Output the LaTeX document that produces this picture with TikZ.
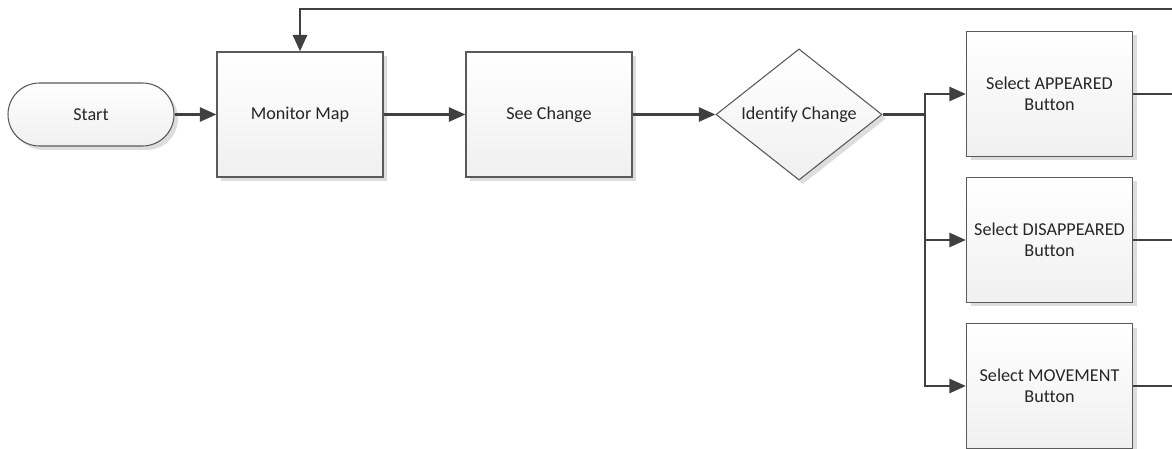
\documentclass[tikz,border=0pt]{standalone}
\usepackage{fontspec}
\setmainfont[Ligatures=CommonOff]{Carlito}
\usetikzlibrary{arrows.meta,shapes.geometric,shadows}
\definecolor{lineC}{HTML}{404040}
\definecolor{bordC}{HTML}{5A5A5A}
\definecolor{shadC}{HTML}{DDDDDD}
\tikzset{
  x=0.75pt, y=-0.75pt,
  boxbase/.style={draw=bordC, line width=0.8pt, top color=white, bottom color=black!6,
    drop shadow={shadow xshift=3pt, shadow yshift=-3pt, fill=shadC, opacity=1},
    font=\fontsize{13.6}{16}\selectfont, text=black!85, align=center, inner sep=0pt},
  procbox/.style={boxbase, rectangle, minimum width=124.5pt, minimum height=93.75pt},
  termbox/.style={boxbase, rectangle, rounded corners=23.6pt, minimum width=124.5pt, minimum height=47.25pt},
  decbox/.style={boxbase, diamond, minimum width=124.5pt, minimum height=93.75pt},
  conn/.style={draw=lineC, line width=2.2pt, -{Triangle[length=12.5pt,width=10.5pt]}},
  plain/.style={draw=lineC, line width=2.2pt},
  outln/.style={draw=lineC, line width=1.6pt},
}
\begin{document}
\begin{tikzpicture}
\useasboundingbox (0,0) rectangle (1172,449);
\node[termbox] (start) at (91,114.5) {Start};
\node[procbox] (mon) at (300,114.5) {Monitor Map};
\node[procbox] (see) at (549,114.5) {See Change};
\node[decbox] (idc) at (799,114.5) {Identify Change};
\node[procbox] (app) at (1049.5,94) {Select APPEARED\\Button};
\node[procbox] (dis) at (1049.5,240) {Select DISAPPEARED\\Button};
\node[procbox] (mov) at (1049.5,386) {Select MOVEMENT\\Button};
\coordinate (br) at (925,114.5);
\coordinate (loopR) at (1173,9);
\coordinate (oA) at (1173,94);
\coordinate (oD) at (1173,240);
\coordinate (oM) at (1173,386);
\draw[conn] (start) -- (mon);
\draw[conn] (mon) -- (see);
\draw[conn] (see) -- (idc);
\draw[plain] (idc.east) -- (br);
\draw[conn] (br) |- (app.west);
\draw[conn] (br) |- (dis.west);
\draw[conn] (br) |- (mov.west);
\draw[outln] (app.east) -- (oA);
\draw[outln] (dis.east) -- (oD);
\draw[outln] (mov.east) -- (oM);
\draw[conn] (loopR) -| (mon.north);
\end{tikzpicture}
\end{document}
